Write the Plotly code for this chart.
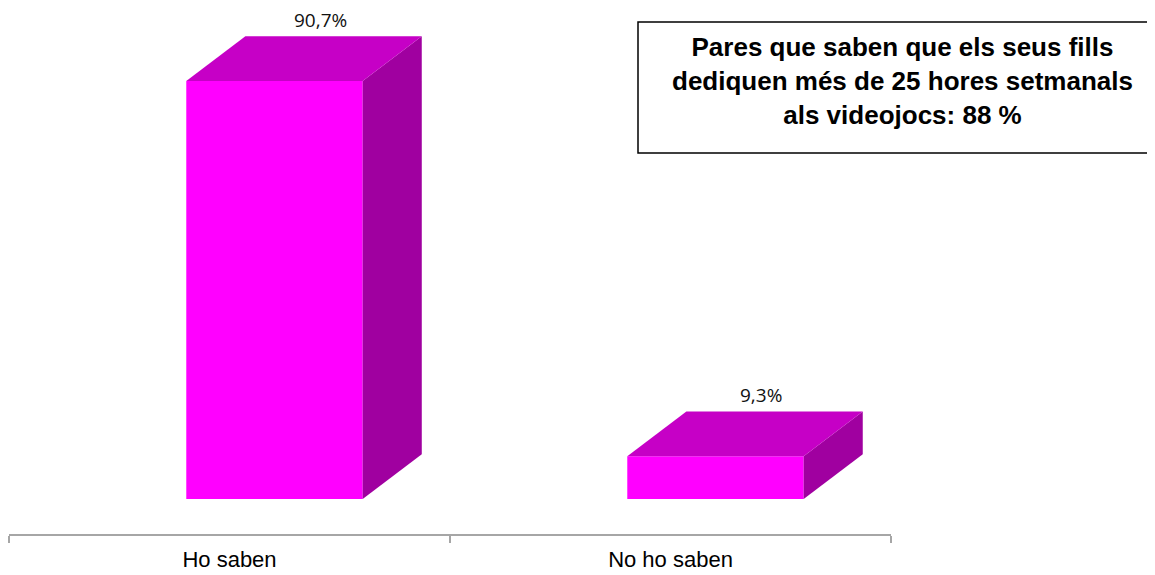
import plotly.graph_objects as go

# ---- data ----
categories = ["Ho saben", "No ho saben"]
values = [90.7, 9.3]
value_labels = ["90,7%", "9,3%"]
box_text = ["Pares que saben que els seus fills",
            "dediquen més de 25 hores setmanals",
            "als videojocs: 88 %"]

# ---- style constants ----
FRONT = "#FF00FF"
TOP = "#C600C6"
SIDE = "#A000A0"
FL = -0.098      # front face left offset from category centre (x units)
W = 0.40         # front face width (x units)
DX = 0.134       # depth offset in x units
DY = 9.7         # depth offset in y units
LABEL_DX = 0.206

PAGE_OFF = 8     # browser body margin
W_PX, H_PX = 1155, 575
# target plot area in screen pixels
PL, PR, PT, PB = 9, 891, 10, 534
L = PL - PAGE_OFF
T = PT - PAGE_OFF
R = W_PX - (PR - PAGE_OFF)
B = H_PX - (PB - PAGE_OFF)
Y_MIN, Y_MAX = -7.59, 106.1

fig = go.Figure()

xs = list(range(len(categories)))

# side and top faces
for i, v in zip(xs, values):
    x0 = i + FL
    x1 = x0 + W
    fig.add_trace(go.Scatter(
        x=[x1, x1 + DX, x1 + DX, x1, x1],
        y=[0, DY, v + DY, v, 0],
        fill="toself", fillcolor=SIDE, mode="lines",
        line=dict(width=0, color=SIDE), hoverinfo="skip", showlegend=False))
    fig.add_trace(go.Scatter(
        x=[x0, x1, x1 + DX, x0 + DX, x0],
        y=[v, v, v + DY, v + DY, v],
        fill="toself", fillcolor=TOP, mode="lines",
        line=dict(width=0, color=TOP), hoverinfo="skip", showlegend=False))

# front faces
fig.add_trace(go.Bar(
    x=xs, y=values, width=W, offset=FL,
    marker=dict(color=FRONT, line=dict(width=0)),
    hoverinfo="skip", showlegend=False))

# value labels
for i, v, lab in zip(xs, values, value_labels):
    fig.add_annotation(
        x=i + LABEL_DX, y=v + DY, text=lab, showarrow=False,
        xanchor="center", yanchor="bottom", yshift=1,
        font=dict(family="Open Sans", size=19, color="#111111"))

# title box (screen-pixel positions converted to paper coords)
def px_x(p):
    return (p - PL) / (PR - PL)

def px_y(p):
    return (PB - p) / (PB - PT)

fig.add_shape(type="rect", xref="paper", yref="paper",
              x0=px_x(638), x1=px_x(1185), y0=px_y(153), y1=px_y(22),
              line=dict(color="#000000", width=1.5), fillcolor="white")
fig.add_annotation(
    xref="paper", yref="paper", x=px_x(902), y=px_y(81),
    text="<br>".join(box_text), showarrow=False,
    xanchor="center", yanchor="middle", align="center",
    font=dict(family="Liberation Sans, Arial", size=26, color="#000000",
              weight="bold"))

fig.update_layout(
    width=W_PX, height=H_PX,
    margin=dict(l=L, r=R, t=T, b=B, pad=0),
    paper_bgcolor="white", plot_bgcolor="white",
    xaxis=dict(
        range=[-0.5, len(categories) - 0.5],
        tickmode="array", tickvals=xs, ticktext=categories,
        ticks="", showgrid=False, zeroline=False,
        showline=True, linecolor="#A6A6A6", linewidth=2,
        ticklabelstandoff=5,
        tickfont=dict(family="Liberation Sans, Arial", size=22, color="#000000"),
        minor=dict(tickmode="array",
                   tickvals=[i - 0.5 for i in range(len(categories) + 1)],
                   ticks="outside", ticklen=7, tickwidth=1.5,
                   tickcolor="#A6A6A6", showgrid=False),
        fixedrange=True,
    ),
    yaxis=dict(range=[Y_MIN, Y_MAX], visible=False, showgrid=False,
               zeroline=False, fixedrange=True),
)

fig.write_html("out.html")
